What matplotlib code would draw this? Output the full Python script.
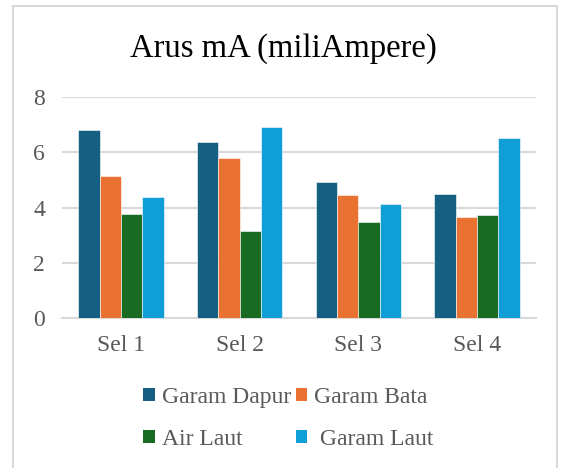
import numpy as np
import matplotlib.pyplot as plt
from matplotlib.patches import Rectangle, Patch

# data
kategori = ['Sel 1', 'Sel 2', 'Sel 3', 'Sel 4']
garam_dapur = [6.80, 6.37, 4.92, 4.48]
garam_bata = [5.15, 5.81, 4.45, 3.65]
air_laut = [3.78, 3.15, 3.48, 3.72]
garam_laut = [4.38, 6.91, 4.13, 6.50]

nama_seri = ['Garam Dapur', 'Garam Bata', 'Air Laut', ' Garam Laut']
warna = ['#156082', '#E97132', '#196B24', '#0F9ED5']
seri = [garam_dapur, garam_bata, air_laut, garam_laut]

plt.rcParams['font.family'] = ['Liberation Serif', 'DejaVu Serif']

fig = plt.figure(figsize=(5.62, 4.68), dpi=100)
ax = fig.add_axes([0.110, 0.3205, 0.844, 0.4722])

# bingkai abu-abu di sekitar grafik
fig.patches.append(Rectangle((13 / 562, -0.05), 544 / 562, 1 - 6 / 468 + 0.05,
                             transform=fig.transFigure, fill=False,
                             edgecolor='#d9d9d9', linewidth=1.5))

x = np.arange(len(kategori))
w = 0.18
for i, (vals, c) in enumerate(zip(seri, warna)):
    ax.bar(x + (i - 1.5) * w, vals, width=w, color=c, edgecolor='white',
           linewidth=0.4, zorder=3)

ax.set_xlim(-0.5, 3.5)
ax.set_ylim(0, 8)
ax.set_yticks([0, 2, 4, 6, 8])
ax.set_xticks(x)
ax.set_xticklabels(kategori)
ax.grid(axis='y', color='#d9d9d9', linewidth=1.5, zorder=0)
for s in ['top', 'right', 'left']:
    ax.spines[s].set_visible(False)
ax.spines['bottom'].set_color('#d9d9d9')
ax.spines['bottom'].set_linewidth(1.5)
ax.tick_params(axis='both', length=0, labelsize=17, colors='#595959')
ax.tick_params(axis='y', pad=12)
ax.tick_params(axis='x', pad=12)

fig.text(0.505, 0.897, 'Arus mA (miliAmpere)', ha='center', va='center',
         fontsize=23.5, color='black')

# legenda: urutan kolom agar baris 1 = Dapur, Bata
h = [Patch(facecolor=c) for c in warna]
urut = [0, 2, 1, 3]
fig.legend([h[i] for i in urut], [nama_seri[i] for i in urut], ncol=2,
           loc='center', bbox_to_anchor=(0.513, 0.106), frameon=False,
           fontsize=17, labelcolor='#595959', handlelength=0.5,
           handleheight=0.5, handletextpad=0.3, columnspacing=0.2,
           labelspacing=0.9)

plt.savefig('out.png', dpi=100)
